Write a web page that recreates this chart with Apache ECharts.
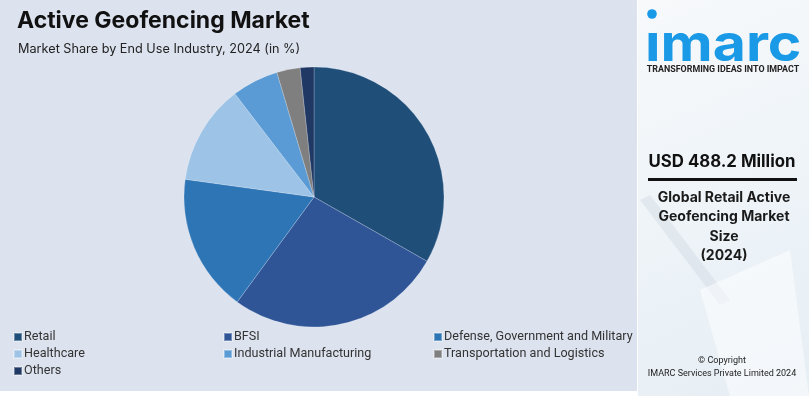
<!DOCTYPE html>
<html>
<head>
<meta charset="utf-8">
<script src="https://cdn.jsdelivr.net/npm/echarts@6/dist/echarts.min.js"></script>
<style>
  html, body { margin: 0; padding: 0; background: #ffffff; }
  #chart { width: 809px; height: 396px; }
</style>
</head>
<body>
<div id="chart"></div>
<script>
  // market share by end use industry, 2024 (%)
  const categories = ['Retail', 'BFSI', 'Defense, Government and Military', 'Healthcare',
    'Industrial Manufacturing', 'Transportation and Logistics', 'Others'];
  const shares = [33.2, 26.8, 17.1, 12.4, 5.8, 2.9, 1.7];
  const colors = ['#1f4e79', '#2f5597', '#2e75b6', '#9dc3e6', '#5b9bd5', '#7f7f7f', '#203864'];

  const legendCols = [
    ['Retail', 'Healthcare', 'Others'],
    ['BFSI', 'Industrial Manufacturing'],
    ['Defense, Government and Military', 'Transportation and Logistics']
  ];
  const legendX = [13, 223, 433];

  const chart = echarts.init(document.getElementById('chart'));

  const legendBase = {
    orient: 'vertical',
    top: 330,
    icon: 'rect',
    itemWidth: 8,
    itemHeight: 8,
    itemGap: 3,
    padding: 0,
    selectedMode: false,
    textStyle: { fontFamily: 'Roboto', fontSize: 12.6, color: '#333', lineHeight: 14, padding: [0, 0, 0, -3] }
  };

  const option = {
    backgroundColor: '#ffffff',
    animation: false,
    color: colors,
    title: [
      {
        text: 'Active Geofencing Market',
        left: 12, top: 5,
        textStyle: { fontFamily: 'Inter', fontWeight: 'bold', fontSize: 23, color: '#111' }
      },
      {
        text: 'Market Share by End Use Industry, 2024 (in %)',
        left: 13, top: 38,
        textStyle: { fontFamily: 'Inter', fontWeight: 'normal', fontSize: 12.7, color: '#222' }
      }
    ],
    legend: legendCols.map((col, i) => Object.assign({}, legendBase, { left: legendX[i], data: col })),
    graphic: [
      // left panel background
      { type: 'rect', z: -10, shape: { x: 0, y: 0, width: 637, height: 391 }, style: { fill: '#dce3ef' } },
      // right panel
      {
        type: 'rect', z: -10, shape: { x: 638, y: 0, width: 171, height: 396 },
        style: {
          fill: new echarts.graphic.LinearGradient(0, 0, 1, 1, [
            { offset: 0, color: '#f7f9fb' },
            { offset: 0.5, color: '#eef4f8' },
            { offset: 1, color: '#e6eef5' }
          ])
        }
      },
      { type: 'polygon', z: -9, shape: { points: [[640, 200], [650, 195], [730, 300], [720, 305]] }, style: { fill: 'rgba(200,210,220,0.35)' } },
      { type: 'polygon', z: -9, shape: { points: [[700, 290], [790, 250], [809, 396], [730, 396]] }, style: { fill: 'rgba(255,255,255,0.5)' } },
      // imarc logo
      { type: 'circle', shape: { cx: 652, cy: 14, r: 4.8 }, style: { fill: '#1a9ae6' } },
      {
        type: 'text', x: 645, y: 71, scaleX: 1.1, scaleY: 1.0,
        style: { text: 'ımarc', fontFamily: 'Inter', fontWeight: 'bold', fontSize: 52, fill: '#1a9ae6', textVerticalAlign: 'bottom' }
      },
      {
        type: 'text', x: 723, y: 70,
        style: { text: 'TRANSFORMING IDEAS INTO IMPACT', fontFamily: 'Roboto', fontWeight: 'bold', fontSize: 8.9, fill: '#222', textAlign: 'center', textVerticalAlign: 'middle' }
      },
      {
        type: 'text', x: 722, y: 162,
        style: { text: 'USD 488.2 Million', fontFamily: 'Inter', fontWeight: 'bold', fontSize: 16.8, fill: '#111', textAlign: 'center', textVerticalAlign: 'middle' }
      },
      { type: 'rect', shape: { x: 648, y: 178, width: 149, height: 3 }, style: { fill: '#111' } },
      {
        type: 'text', x: 724, y: 227,
        style: {
          text: 'Global Retail Active\nGeofencing Market\nSize\n(2024)',
          fontFamily: 'Inter', fontWeight: 'bold', fontSize: 14, lineHeight: 19.5,
          fill: '#1a1a1a', textAlign: 'center', textVerticalAlign: 'middle'
        }
      },
      {
        type: 'text', x: 722, y: 367,
        style: {
          text: '© Copyright\nIMARC Services Private Limited 2024',
          fontFamily: 'Roboto', fontSize: 9, lineHeight: 12.5,
          fill: '#222', textAlign: 'center', textVerticalAlign: 'middle'
        }
      }
    ],
    series: [
      {
        type: 'pie',
        center: [314, 197],
        radius: [0, 130],
        startAngle: 90,
        clockwise: true,
        label: { show: false },
        labelLine: { show: false },
        itemStyle: { borderColor: 'rgba(255,255,255,0.35)', borderWidth: 0.6 },
        emphasis: { disabled: true },
        data: categories.map((c, i) => ({ name: c, value: shares[i] }))
      }
    ]
  };

  chart.setOption(option);
</script>
</body>
</html>
